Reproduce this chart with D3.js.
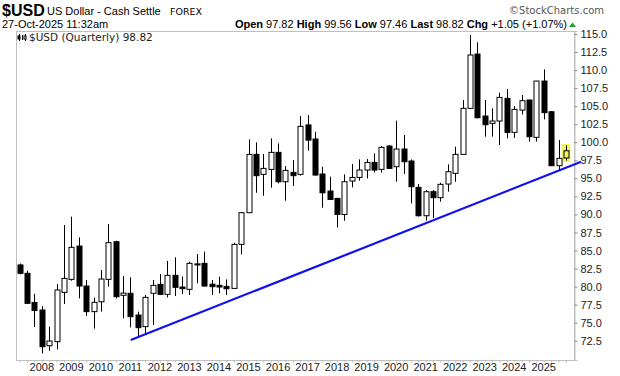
<!DOCTYPE html>
<html><head><meta charset="utf-8">
<script src="https://cdn.jsdelivr.net/npm/d3@7"></script>
<style>body{margin:0;background:#fff}svg{display:block}</style>
</head><body><svg id="c" width="620" height="376"></svg>
<script>
const quarters = ["2007Q2","2007Q3","2007Q4","2008Q1","2008Q2","2008Q3","2008Q4","2009Q1","2009Q2","2009Q3","2009Q4","2010Q1","2010Q2","2010Q3","2010Q4","2011Q1","2011Q2","2011Q3","2011Q4","2012Q1","2012Q2","2012Q3","2012Q4","2013Q1","2013Q2","2013Q3","2013Q4","2014Q1","2014Q2","2014Q3","2014Q4","2015Q1","2015Q2","2015Q3","2015Q4","2016Q1","2016Q2","2016Q3","2016Q4","2017Q1","2017Q2","2017Q3","2017Q4","2018Q1","2018Q2","2018Q3","2018Q4","2019Q1","2019Q2","2019Q3","2019Q4","2020Q1","2020Q2","2020Q3","2020Q4","2021Q1","2021Q2","2021Q3","2021Q4","2022Q1","2022Q2","2022Q3","2022Q4","2023Q1","2023Q2","2023Q3","2023Q4","2024Q1","2024Q2","2024Q3","2024Q4","2025Q1","2025Q2","2025Q3","2025Q4"];
const opens  = [83.0,81.84,77.8,76.76,71.81,72.37,79.2,81.0,85.62,80.08,76.53,77.9,81.0,86.22,78.79,79.07,76.06,74.45,79.07,80.31,78.93,81.56,79.94,79.62,83.0,83.22,80.33,80.17,80.03,79.75,85.85,90.24,98.32,95.55,96.24,98.6,94.53,95.83,95.55,102.4,100.45,95.6,93.24,92.22,90.0,94.63,95.13,96.15,97.21,96.24,99.48,96.61,99.06,97.4,93.75,89.82,93.15,92.32,94.21,95.69,98.32,104.7,112.22,103.63,102.62,102.94,106.08,101.37,104.46,105.85,100.68,108.48,104.23,96.75,97.82];
const highs  = [83.2,82.2,79.0,77.3,74.45,80.36,88.53,89.69,86.82,80.91,78.47,82.3,88.67,86.36,81.47,81.28,76.53,78.84,80.91,81.74,83.55,84.06,81.4,83.45,84.52,84.84,80.91,81.37,81.0,86.08,90.3,100.4,99.98,98.37,100.54,99.85,96.7,97.54,103.63,103.77,101.46,96.61,95.23,92.3,95.55,96.98,97.63,97.67,98.46,99.48,99.6,102.99,101.0,97.63,94.21,93.38,93.4,94.4,96.94,99.38,105.85,114.86,113.84,105.85,104.7,106.87,107.37,105.02,106.54,105.9,108.5,110.1,104.3,100.3,99.56];
const lows   = [81.7,77.6,74.4,70.75,71.1,71.3,77.59,80.82,78.37,75.93,74.17,76.53,79.99,78.37,75.6,74.35,72.97,73.43,74.68,78.84,78.51,78.7,78.97,78.84,80.45,79.99,78.84,79.06,78.83,79.7,84.46,90.2,93.0,92.59,93.7,94.3,91.9,93.93,95.37,98.83,95.37,90.93,91.99,88.2,89.13,93.75,94.67,94.99,95.83,95.8,96.3,94.53,95.6,91.53,89.7,89.13,89.5,91.76,93.15,94.53,98.3,104.6,103.3,100.77,100.77,99.61,100.54,100.6,103.87,100.08,100.1,103.17,96.7,96.15,97.46];
const closes = [81.84,77.68,76.7,71.67,72.46,79.53,81.14,85.44,80.08,76.53,77.82,81.05,86.09,78.6,79.1,75.83,74.31,78.51,80.17,78.93,81.56,79.9,79.71,83.22,83.15,80.08,79.99,79.94,79.7,85.85,90.24,98.32,95.37,96.38,98.6,94.53,96.1,95.37,102.2,100.3,95.46,93.0,92.08,90.0,94.53,95.13,96.15,97.21,96.15,99.29,96.38,99.06,97.3,93.84,89.82,93.15,92.32,94.17,95.92,98.32,104.7,112.09,103.4,102.43,102.94,106.22,101.37,104.56,105.76,100.77,108.48,104.1,96.75,97.77,98.82];
const yearLabels = ["2008","2009","2010","2011","2012","2013","2014","2015","2016","2017","2018","2019","2020","2021","2022","2023","2024","2025"];
const priceTicks = [72.5,75,77.5,80,82.5,85,87.5,90,92.5,95,97.5,100,102.5,105,107.5,110,112.5,115];
// trendline anchor points: [candle index, price]
const trendIdx = [15.05, 76.06];
const trendVal = [72.6, 97.3];

const svg = d3.select("#c");
const L = 16, R = 574, T = 31, B = 360;
const x = d3.scaleLinear().domain([-0.5, 75.1]).range([L, R]);
const y = d3.scaleLinear().domain([69.83, 115.416]).range([B, T]);
const AF = "'Liberation Sans', Arial, sans-serif";

// frame
svg.append("rect").attr("x", L + 0.5).attr("y", T + 0.5).attr("width", R - L).attr("height", B - T)
  .attr("fill", "none").attr("stroke", "#c0c0c0").attr("stroke-width", 1);

// right axis
const yAxis = d3.axisRight(y).tickValues(priceTicks).tickFormat(d3.format(".1f")).tickSize(3).tickPadding(3);
const ga = svg.append("g").attr("transform", `translate(${R + 0.5},0)`).call(yAxis);
ga.select(".domain").attr("stroke", "#c0c0c0");
ga.selectAll(".tick line").attr("stroke", "#888");
ga.selectAll(".tick text").attr("font-family", AF).attr("font-size", 11).attr("fill", "#222");

// bottom axis: quarter ticks + year labels on Q1 candles
const q1Idx = yearLabels.map(yl => quarters.indexOf(yl + "Q1"));
const xAxis = d3.axisBottom(x).tickValues(d3.range(quarters.length)).tickSize(2).tickFormat(() => "");
const gx = svg.append("g").attr("transform", `translate(0,${B + 0.5})`).call(xAxis);
gx.select(".domain").remove();
gx.selectAll(".tick line").attr("stroke", "#bbb");
svg.append("g").selectAll("text").data(yearLabels).join("text")
  .attr("x", (d, i) => x(q1Idx[i])).attr("y", 371).attr("text-anchor", "middle")
  .attr("font-family", AF).attr("font-size", 11).attr("fill", "#222").text(d => d);

// highlight last candle
const last = quarters.length - 1;
svg.append("rect").attr("x", x(last) - 4.5).attr("y", y(highs[last]) - 1.5)
  .attr("width", 9).attr("height", y(lows[last]) - y(highs[last]) + 3).attr("fill", "#f3f36a");

// candles
const idx = d3.range(quarters.length);
const g = svg.append("g");
g.selectAll("line.w").data(idx).join("line").attr("class", "w")
  .attr("x1", i => Math.round(x(i)) + 0.5).attr("x2", i => Math.round(x(i)) + 0.5)
  .attr("y1", i => y(highs[i])).attr("y2", i => y(lows[i]))
  .attr("stroke", "#000").attr("stroke-width", 1);
g.selectAll("rect.b").data(idx).join("rect").attr("class", "b")
  .attr("x", i => Math.round(x(i)) - 2)
  .attr("y", i => y(Math.max(opens[i], closes[i])))
  .attr("width", 5)
  .attr("height", i => Math.max(1, Math.abs(y(opens[i]) - y(closes[i]))))
  .attr("fill", i => closes[i] >= opens[i] ? (i === last ? "#f3f36a" : "#fff") : "#000")
  .attr("stroke", "#000").attr("stroke-width", 1);

// trendline
svg.append("line")
  .attr("x1", x(trendIdx[0])).attr("y1", y(trendVal[0]))
  .attr("x2", x(trendIdx[1])).attr("y2", y(trendVal[1]))
  .attr("stroke", "#1010f0").attr("stroke-width", 2.2);

// header
svg.append("text").attr("x", 2).attr("y", 16).attr("font-family", AF).attr("font-weight", "bold")
  .attr("font-size", 16).attr("fill", "#000").text("$USD");
svg.append("text").attr("x", 47).attr("y", 15).attr("font-family", AF).attr("font-size", 11).text("US Dollar - Cash Settle");
svg.append("text").attr("x", 170).attr("y", 15).attr("font-family", "'DejaVu Sans', sans-serif").attr("font-size", 9.5).text("FOREX");
svg.append("text").attr("x", 604).attr("y", 14).attr("text-anchor", "end").attr("font-family", "'DejaVu Sans', sans-serif")
  .attr("font-size", 10).attr("fill", "#555").text("©StockCharts.com");
svg.append("text").attr("x", 2).attr("y", 28).attr("font-family", AF).attr("font-size", 11).text("27-Oct-2025 11:32am");
const info = svg.append("text").attr("x", 567).attr("y", 28).attr("text-anchor", "end").attr("font-family", AF).attr("font-size", 11);
[["Open ", true], ["97.82 ", false], ["High ", true], ["99.56 ", false], ["Low ", true], ["97.46 ", false],
 ["Last ", true], ["98.82 ", false], ["Chg ", true], ["+1.05 (+1.07%)", false]].forEach(([t, b]) => {
  info.append("tspan").attr("font-weight", b ? "bold" : "normal").attr("font-size", 11).text(t);
});
svg.append("path").attr("d", "M569,27 L572.5,22.5 L576,27 Z").attr("fill", "#2a9d2a");

// plot label
const ic = svg.append("g").attr("stroke", "#000").attr("stroke-width", 1);
[[19, 34, 41], [22, 35, 40], [25, 34, 41]].forEach(([xx, a, b]) => ic.append("line").attr("x1", xx + 0.5).attr("x2", xx + 0.5).attr("y1", a).attr("y2", b));
ic.append("rect").attr("x", 18).attr("y", 36).attr("width", 2).attr("height", 3).attr("fill", "#000");
ic.append("rect").attr("x", 24).attr("y", 36).attr("width", 2).attr("height", 3).attr("fill", "#fff");
svg.append("text").attr("x", 29).attr("y", 41).attr("font-family", "'DejaVu Sans', sans-serif").attr("font-size", 10.5)
  .attr("fill", "#222").text("$USD (Quarterly) 98.82");
</script></body></html>
